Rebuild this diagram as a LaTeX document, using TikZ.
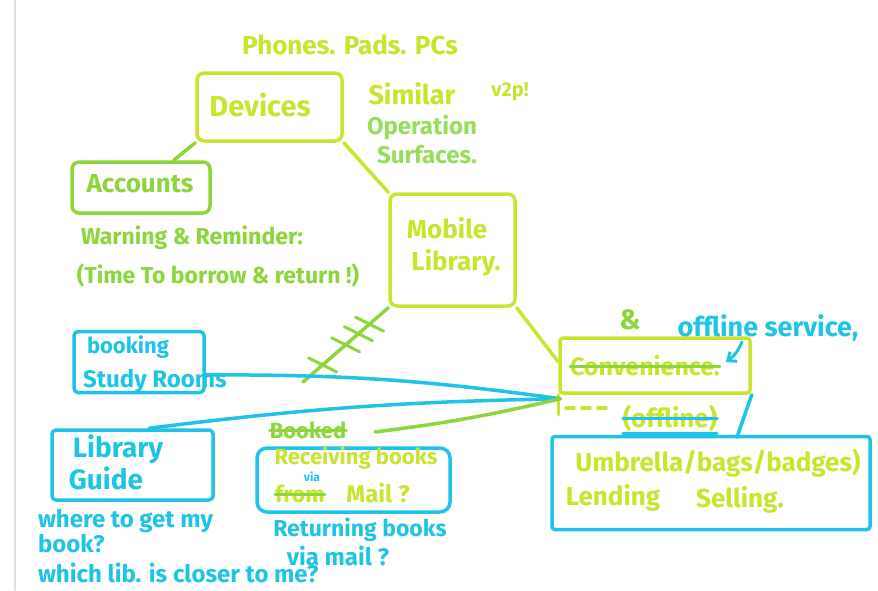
\documentclass[tikz,border=0pt]{standalone}
\usepackage{fontspec}
\setmainfont{Fira Sans}
\usetikzlibrary{calc,arrows.meta}
\definecolor{ylw}{RGB}{200,228,45}
\definecolor{grn}{RGB}{140,214,60}
\definecolor{lgrn}{RGB}{150,222,90}
\definecolor{blu}{RGB}{30,196,232}
\newcommand\fsz[1]{\fontsize{#1}{#1}\selectfont\bfseries}
\begin{document}
\begin{tikzpicture}[x=1pt,y=-1pt,line cap=round,line join=round,
  pen/.style={line width=3.5pt},
  sbox/.style={pen,rounded corners=7pt,inner sep=0pt,rectangle},
  txt/.style={inner sep=0pt,outer sep=0pt},
  strike/.style={line width=3pt}]
\useasboundingbox (0,0) rectangle (878,590);
\fill[white] (0,0) rectangle (878,590);
\draw[gray!25,line width=2pt] (15,0) -- (15,590);

% ---------- boxes ----------
\node[sbox,draw=ylw,minimum width=145pt,minimum height=68pt] (dev) at (269.5,107) {};
\node[sbox,draw=grn,minimum width=138pt,minimum height=51pt] (acc) at (141,187.5) {};
\node[sbox,draw=ylw,minimum width=125pt,minimum height=112pt] (mob) at (452.5,250) {};
\node[sbox,draw=ylw,rounded corners=3pt,minimum width=190pt,minimum height=55pt] (conv) at (655,365.5) {};
\node[sbox,draw=blu,rounded corners=3pt,minimum width=318pt,minimum height=93pt] (umb) at (711,483) {};
\node[sbox,draw=blu,rounded corners=4pt,minimum width=130pt,minimum height=61pt] (book) at (139,362) {};
\node[sbox,draw=blu,rounded corners=4pt,minimum width=161pt,minimum height=70pt] (guide) at (132.5,465) {};
\node[sbox,draw=blu,rounded corners=10pt,minimum width=193pt,minimum height=64pt] (recv) at (353.5,480) {};

% convenience box extensions
\draw[pen,ylw] (conv.south west) -- ++(0,20);
\draw[pen,ylw] (566,408) -- (574,408) (582,408) -- (590,408) (598,408) -- (606,408);
\draw[pen,blu] (conv.south east) -- (737,437);

% ---------- texts ----------
\node[txt,ylw,font=\fsz{26}] (phones) at (350,45) {Phones. Pads. PCs};
\node[txt,ylw,font=\fsz{29}] (devt) at (260,105) {Devices};
\node[txt,ylw,font=\fsz{27}] (sim) at (412,94) {Similar};
\node[txt,ylw,font=\fsz{20}] (v2p) at (510,92) {v2p!};
\node[txt,lgrn,font=\fsz{24}] (oper) at (422,127) {Operation};
\node[txt,lgrn,font=\fsz{24}] (surf) at (427,155) {Surfaces.};
\node[txt,grn,font=\fsz{26}] (acct) at (140,184) {Accounts};
\node[txt,grn,font=\fsz{23}] (warn) at (192,238) {Warning \& Reminder:};
\node[txt,grn,font=\fsz{23}] (timet) at (218,275) {(Time To borrow \& return !)};
\node[txt,ylw,font=\fsz{26}] (mob1) at (447,228) {Mobile};
\node[txt,ylw,font=\fsz{26}] (mob2) at (456,263) {Library.};
\node[txt,grn,font=\fsz{28}] (amp) at (630,320) {\&};
\node[txt,blu,font=\fsz{27}] (offl) at (768,328) {offline service,};
\node[txt,ylw,font=\fsz{25}] (convt) at (645,366) {Convenience.};
\node[txt,ylw,font=\fsz{26}] (offt) at (670,418) {(offline)};
\node[txt,ylw,font=\fsz{26}] (umb1) at (718,463) {Umbrella/bags/badges)};
\node[txt,ylw,font=\fsz{26}] (lend) at (613,498) {Lending};
\node[txt,ylw,font=\fsz{26}] (sell) at (740,500) {Selling.};
\node[txt,blu,font=\fsz{22}] (book1) at (128,347) {booking};
\node[txt,blu,font=\fsz{24}] (book2) at (155,381) {Study Rooms};
\node[txt,blu,font=\fsz{28}] (lib1) at (118,449) {Library};
\node[txt,blu,font=\fsz{28}] (lib2) at (106,478) {Guide};
\node[txt,blu,font=\fsz{24},anchor=west] (wh1) at (38,521) {where to get my};
\node[txt,blu,font=\fsz{24},anchor=west] (wh2) at (38,544) {book?};
\node[txt,blu,font=\fsz{24},anchor=west] (wh3) at (38,573) {which lib. is closer to me?};
\node[txt,grn,font=\fsz{22}] (booked) at (308,430) {Booked};
\node[txt,ylw,font=\fsz{22}] (rec1) at (356,458) {Receiving books};
\node[txt,ylw,font=\fsz{23}] (fromt) at (300,494) {from};
\node[txt,blu,font=\fsz{12}] (via) at (312,477) {via};
\node[txt,ylw,font=\fsz{24}] (mail) at (378,493) {Mail ?};
\node[txt,blu,font=\fsz{23}] (ret1) at (360,530) {Returning books};
\node[txt,blu,font=\fsz{24}] (ret2) at (338,556) {via mail ?};

% strike-throughs
\draw[strike,grn] (convt.west) -- (convt.east);
\draw[strike,grn] (booked.west) -- (booked.east);
\draw[strike,grn] (fromt.west) -- (fromt.east);
\draw[strike,blu] (offt.west) -- (offt.east);
\draw[strike,blu] ([yshift=-2pt]offt.south west) -- ([yshift=-2pt]offt.south east);

% ---------- connectors ----------
\draw[pen,grn] (dev.south west) -- ([xshift=-38pt]acc.north east);
\draw[pen,ylw] (dev.south east) -- (mob.north west);
\draw[pen,ylw] (mob.south east) -- ($(conv.north west)!0.44!(conv.south west)$);
\coordinate (hend) at (303,382);
\draw[pen,grn] (mob.south west) -- (hend);
\foreach \t in {0.22,0.35,0.5,0.77}{
  \coordinate (hc) at ($(mob.south west)!\t!(hend)$);
  \draw[line width=3pt,grn] ($(hc)+(-14,-7)$) -- ($(hc)+(14,7)$);
}
\coordinate (cin) at ($(conv.south west)+(2,4)$);
\draw[pen,blu] ($(book.north east)!0.7!(book.south east)$) to[bend left=4] (cin);
\draw[pen,blu] ($(guide.north west)!0.6!(guide.north east)$) to[bend left=3] (cin);
\coordinate (gstart) at (375,432);
\draw[pen,grn] (gstart) to[bend right=3] (cin);
\coordinate (arA) at (742,342);
\coordinate (arB) at (726,362);
\draw[line width=3pt,blu,-{Straight Barb[length=7pt,width=12pt]}] (arA) to[bend left=15] (arB);
\end{tikzpicture}
\end{document}
